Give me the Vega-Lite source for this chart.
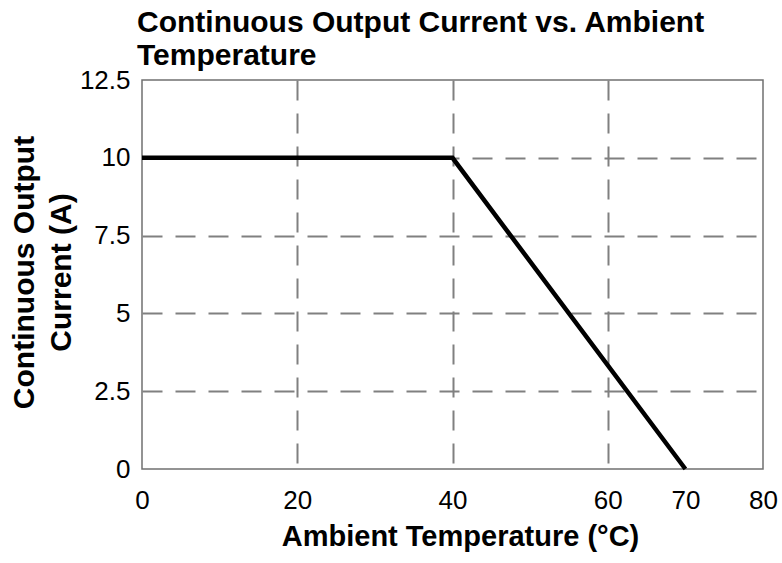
{
  "$schema": "https://vega.github.io/schema/vega-lite/v6.json",
  "width": 621,
  "height": 389,
  "autosize": {"type": "none"},
  "padding": {"left": 142, "top": 80, "right": 19, "bottom": 94},
  "background": "white",
  "config": {
    "font": "Liberation Sans",
    "view": {"stroke": "#707070", "strokeWidth": 1.5}
  },
  "title": {
    "text": ["Continuous Output Current vs. Ambient", "Temperature"],
    "anchor": "start",
    "frame": "group",
    "font": "Liberation Sans",
    "fontSize": 30,
    "fontWeight": "bold",
    "color": "black",
    "lineHeight": 33,
    "dx": -5,
    "dy": 18,
    "offset": 14
  },
  "data": {
    "values": [
      {"t": 0, "i": 10},
      {"t": 40, "i": 10},
      {"t": 70, "i": 0}
    ]
  },
  "mark": {"type": "line", "color": "black", "strokeWidth": 4.5},
  "encoding": {
    "x": {
      "field": "t",
      "type": "quantitative",
      "scale": {"domain": [0, 80], "nice": false, "zero": false},
      "axis": {
        "values": [0, 20, 40, 60, 70, 80],
        "labelExpr": "'' + datum.value",
        "labelFontSize": 26,
        "labelColor": "black",
        "labelPadding": 18,
        "labelFlush": false,
        "ticks": false,
        "domain": false,
        "grid": true,
        "gridWidth": 2,
        "gridDash": [20, 13],
        "gridColor": {
          "condition": {"test": "datum.value === 0 || datum.value === 70 || datum.value === 80", "value": "transparent"},
          "value": "#808080"
        },
        "title": "Ambient Temperature (°C)",
        "titleFontSize": 29,
        "titleFontWeight": "bold",
        "titleColor": "black",
        "titleBaseline": "alphabetic",
        "titleX": 318,
        "titleY": 76
      }
    },
    "y": {
      "field": "i",
      "type": "quantitative",
      "scale": {"domain": [0, 12.5], "nice": false},
      "axis": {
        "values": [0, 2.5, 5, 7.5, 10, 12.5],
        "labelExpr": "'' + datum.value",
        "labelFontSize": 26,
        "labelColor": "black",
        "labelPadding": 12,
        "labelFlush": false,
        "ticks": false,
        "domain": false,
        "grid": true,
        "gridWidth": 2,
        "gridDash": [20, 13],
        "gridColor": {
          "condition": {"test": "datum.value === 0 || datum.value === 12.5", "value": "transparent"},
          "value": "#808080"
        },
        "title": ["Continuous Output", "Current (A)"],
        "titleFontSize": 30,
        "titleFontWeight": "bold",
        "titleColor": "black",
        "titleLineHeight": 37,
        "titleBaseline": "alphabetic",
        "titleX": -109,
        "titleY": 192
      }
    }
  }
}
